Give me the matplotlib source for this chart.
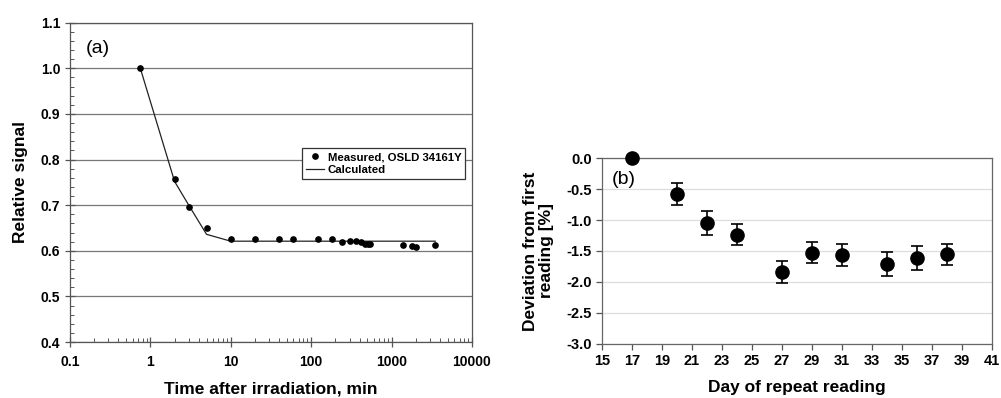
import numpy as np
import matplotlib.pyplot as plt
from matplotlib.ticker import FixedLocator, MultipleLocator, LogLocator, NullFormatter

plt.rcParams['font.family'] = ['Liberation Sans', 'DejaVu Sans']

# panel (a): signal fading after irradiation
t_meas = [0.75, 2, 3, 5, 10, 20, 40, 60, 120, 180, 240, 300, 360, 420,
          470, 510, 540, 1380, 1780, 2000, 3500]
sig_meas = [1.0, 0.758, 0.697, 0.649, 0.626, 0.626, 0.626, 0.626, 0.626,
            0.625, 0.620, 0.622, 0.622, 0.619, 0.615, 0.614, 0.614,
            0.613, 0.611, 0.609, 0.612]
t_calc = [0.75, 2, 3, 5, 10, 3500]
sig_calc = [1.0, 0.752, 0.700, 0.636, 0.621, 0.621]

# panel (b): repeat readings
days = [17, 20, 22, 24, 27, 29, 31, 34, 36, 38]
dev = [0.0, -0.58, -1.05, -1.24, -1.84, -1.53, -1.56, -1.71, -1.61, -1.55]
dev_err = [0.0, 0.18, 0.19, 0.17, 0.18, 0.17, 0.18, 0.20, 0.19, 0.17]
day_ticks = list(range(15, 42, 2))

fig = plt.figure(figsize=(10.01, 3.98), dpi=100)

# ---- (a)
ax1 = fig.add_axes([0.0699, 0.1407, 0.4016, 0.8023])
ax1.plot(t_calc, sig_calc, color='#222222', lw=0.9, label='Calculated', zorder=2)
ax1.plot(t_meas, sig_meas, 'o', color='black', ms=3.8, label='Measured, OSLD 34161Y', zorder=3)
ax1.set_xscale('log')
ax1.set_xlim(0.1, 10000)
ax1.set_ylim(0.4, 1.1)
ax1.xaxis.set_major_locator(FixedLocator([0.1, 1, 10, 100, 1000, 10000]))
ax1.set_xticklabels(['0.1', '1', '10', '100', '1000', '10000'])
ax1.xaxis.set_minor_locator(LogLocator(base=10, subs=np.arange(2, 10)))
ax1.xaxis.set_minor_formatter(NullFormatter())
ax1.yaxis.set_major_locator(MultipleLocator(0.1))
ax1.yaxis.set_minor_locator(MultipleLocator(0.02))
ax1.set_yticklabels(['%.1f' % v for v in ax1.get_yticks()])
ax1.tick_params(which='major', direction='inout', length=7, width=0.9,
                colors='#555555', labelcolor='black', labelsize=10)
ax1.tick_params(axis='x', which='major', pad=6)
ax1.tick_params(which='minor', direction='in', length=3, width=0.7, colors='#555555')
for lab in ax1.get_xticklabels() + ax1.get_yticklabels():
    lab.set_fontweight('bold')
ax1.grid(axis='y', which='major', color='#777777', lw=0.9)
for s in ax1.spines.values():
    s.set_color('#555555')
    s.set_linewidth(0.9)
ax1.set_xlabel('Time after irradiation, min', fontsize=12.5, fontweight='bold', labelpad=9)
ax1.set_ylabel('Relative signal', fontsize=12.5, fontweight='bold', labelpad=9)
ax1.text(0.04, 0.945, '(a)', transform=ax1.transAxes, fontsize=14, va='top')

handles, labels = ax1.get_legend_handles_labels()
leg = ax1.legend(handles[::-1], labels[::-1], loc='upper right',
                 bbox_to_anchor=(0.998, 0.625), fancybox=False, framealpha=1,
                 edgecolor='#333333', handlelength=1.6, handletextpad=0.3,
                 borderpad=0.35, labelspacing=0.25,
                 prop={'size': 8.2, 'weight': 'bold'})
leg.get_frame().set_linewidth(0.9)

# ---- (b)
ax2 = fig.add_axes([0.6014, 0.1357, 0.3896, 0.4673])
ax2.errorbar(days[1:], dev[1:], yerr=dev_err[1:], fmt='o', color='black',
             ms=9.5, capsize=4, elinewidth=1.2, capthick=1.2, zorder=3)
ax2.plot(days[:1], dev[:1], 'o', color='black', ms=9.5, clip_on=False, zorder=4)
ax2.set_xlim(15, 41)
ax2.set_ylim(-3.0, 0.0)
ax2.xaxis.set_major_locator(FixedLocator(day_ticks))
ax2.yaxis.set_major_locator(MultipleLocator(0.5))
ax2.set_yticklabels(['%.1f' % v for v in ax2.get_yticks()])
ax2.tick_params(direction='out', length=4, width=0.9, colors='#555555',
                labelcolor='black', labelsize=10.5)
for lab in ax2.get_xticklabels() + ax2.get_yticklabels():
    lab.set_fontweight('bold')
ax2.grid(axis='y', color='#dddddd', lw=0.9)
ax2.set_axisbelow(True)
for s in ax2.spines.values():
    s.set_color('#666666')
    s.set_linewidth(0.9)
ax2.set_xlabel('Day of repeat reading', fontsize=12.5, fontweight='bold', labelpad=8)
ax2.set_ylabel('Deviation from first\nreading [%]', fontsize=12.5, fontweight='bold',
               labelpad=9, linespacing=1.05)
ax2.text(0.025, 0.93, '(b)', transform=ax2.transAxes, fontsize=14, va='top')

fig.savefig('out.png', dpi=100)
